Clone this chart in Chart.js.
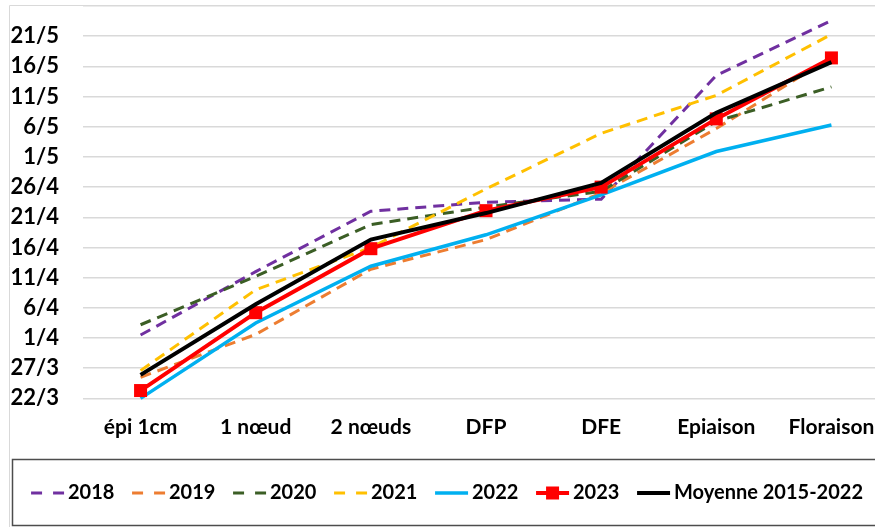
<!DOCTYPE html>
<html>
<head>
<meta charset="utf-8">
<script src="https://cdn.jsdelivr.net/npm/chart.js@4.4.1/dist/chart.umd.min.js"></script>
<style>
  html, body { margin: 0; padding: 0; background: #fff; overflow: hidden; }
  #wrap { width: 875px; height: 527px; overflow: hidden; position: relative; }
  #inner { width: 895px; height: 527px; }
</style>
</head>
<body>
<div id="wrap"><div id="inner"><canvas id="c" width="895" height="527"></canvas></div></div>
<script>
// Categories (stades)
const categories = ['épi 1cm', '1 nœud', '2 nœuds', 'DFP', 'DFE', 'Epiaison', 'Floraison'];
// Y tick labels, one every 5 days starting 22/3 (value = days after 22/3)
const yTickLabels = ['22/3', '27/3', '1/4', '6/4', '11/4', '16/4', '21/4', '26/4', '1/5', '6/5', '11/5', '16/5', '21/5'];
// Series values: days after 22 March
const s2018 = [10.5, 21.0, 31.0, 32.5, 33.0, 53.5, 62.6];
const s2019 = [3.5, 10.6, 21.4, 26.3, 34.0, 44.7, 56.5];
const s2020 = [12.2, 20.2, 28.8, 31.7, 34.3, 45.9, 51.6];
const s2021 = [4.6, 18.0, 25.0, 34.7, 43.9, 50.2, 60.3];
const s2022 = [0.0, 12.5, 21.9, 27.1, 33.7, 40.9, 45.3];
const s2023 = [1.3, 14.2, 24.8, 31.1, 35.0, 46.3, 56.4];
const sMoyenne = [3.9, 15.6, 26.3, 30.7, 35.7, 47.3, 55.7];
const seriesNames = ['2018', '2019', '2020', '2021', '2022', '2023', 'Moyenne 2015-2022'];

const FONT = 'Lato';
const dashPat = [11, 7];

function glyph(color, width, dashed, marker) {
  const W = 46, H = 16;
  const c = document.createElement('canvas');
  c.width = W; c.height = H;
  const g = c.getContext('2d');
  g.strokeStyle = color;
  g.lineWidth = width;
  if (dashed) g.setLineDash([11, 11]);
  g.beginPath();
  g.moveTo(12, H / 2);
  g.lineTo(45, H / 2);
  g.stroke();
  if (marker) {
    g.fillStyle = color;
    g.fillRect(28.5 - 6.5, H / 2 - 6.5, 13, 13);
  }
  return c;
}

const styles = [
  { color: '#7030A0', width: 3, dashed: true, order: 6 },
  { color: '#ED7D31', width: 3, dashed: true, order: 5 },
  { color: '#3B5E25', width: 3, dashed: true, order: 4 },
  { color: '#FFC000', width: 3, dashed: true, order: 3 },
  { color: '#00B0F0', width: 3.5, dashed: false, order: 2 },
  { color: '#FF0000', width: 4, dashed: false, order: 1, marker: true },
  { color: '#000000', width: 4, dashed: false, order: 0 }
];
const values = [s2018, s2019, s2020, s2021, s2022, s2023, sMoyenne];

const datasets = values.map((v, i) => ({
  label: seriesNames[i],
  data: v,
  borderColor: styles[i].color,
  backgroundColor: styles[i].color,
  borderWidth: styles[i].width,
  borderDash: styles[i].dashed ? dashPat : [],
  pointRadius: styles[i].marker ? 9.2 : 0,
  pointHoverRadius: styles[i].marker ? 9.2 : 0,
  pointStyle: 'rect',
  pointBorderWidth: 0,
  tension: 0,
  fill: false,
  clip: false,
  order: styles[i].order
}));

const framePlugin = {
  id: 'frame',
  beforeDraw(chart) {
    const ctx = chart.ctx;
    ctx.save();
    ctx.strokeStyle = '#d9d9d9';
    ctx.lineWidth = 1;
    ctx.beginPath();
    ctx.moveTo(9.5, 527);
    ctx.lineTo(9.5, 5.5);
    ctx.lineTo(chart.width, 5.5);
    ctx.stroke();
    ctx.restore();
  },
  afterDraw(chart) {
    const ctx = chart.ctx;
    ctx.save();
    ctx.strokeStyle = '#4d4d4d';
    ctx.lineWidth = 1.5;
    ctx.strokeRect(12.5, 459.5, 1000, 66);
    ctx.restore();
  }
};

new Chart(document.getElementById('c'), {
  type: 'line',
  data: { labels: categories, datasets },
  plugins: [framePlugin],
  options: {
    responsive: false,
    animation: false,
    events: [],
    layout: { autoPadding: false, padding: { left: 0, right: 6, top: 6, bottom: 14 } },
    scales: {
      x: {
        type: 'category',
        offset: true,
        grid: { display: false, drawTicks: false },
        border: { display: false },
        ticks: {
          color: '#000',
          font: { family: FONT, size: 21, weight: 'bold' },
          padding: 16,
          maxRotation: 0,
          autoSkip: false
        },
        afterFit(s) { s.height = 72; s.paddingLeft = 0; s.paddingRight = 0; }
      },
      y: {
        min: 0,
        max: 65,
        grid: { display: true, drawOnChartArea: true, color: '#d9d9d9', lineWidth: 1.5, drawTicks: false },
        border: { display: false },
        ticks: {
          stepSize: 5,
          autoSkip: false,
          color: '#000',
          font: { family: FONT, size: 22, weight: 'bold' },
          padding: 24,
          callback(v) {
            const idx = Math.round(v / 5);
            return idx < yTickLabels.length ? yTickLabels[idx] : '';
          }
        },
        afterFit(s) { s.width = 83; s.paddingTop = 0; s.paddingBottom = 0; }
      }
    },
    plugins: {
      tooltip: { enabled: false },
      legend: {
        position: 'bottom',
        labels: {
          usePointStyle: true,
          pointStyleWidth: 32,
          boxHeight: 20,
          padding: 12.6,
          color: '#000',
          font: { family: FONT, size: 20, weight: 'bold' },
          generateLabels(chart) {
            return chart.data.datasets.map((ds, i) => ({
              text: ds.label,
              datasetIndex: i,
              pointStyle: glyph(styles[i].color, styles[i].width, styles[i].dashed, styles[i].marker),
              fillStyle: 'transparent',
              strokeStyle: 'transparent',
              lineWidth: 0,
              fontColor: '#000',
              hidden: false
            }));
          }
        }
      }
    }
  }
});
</script>
</body>
</html>
